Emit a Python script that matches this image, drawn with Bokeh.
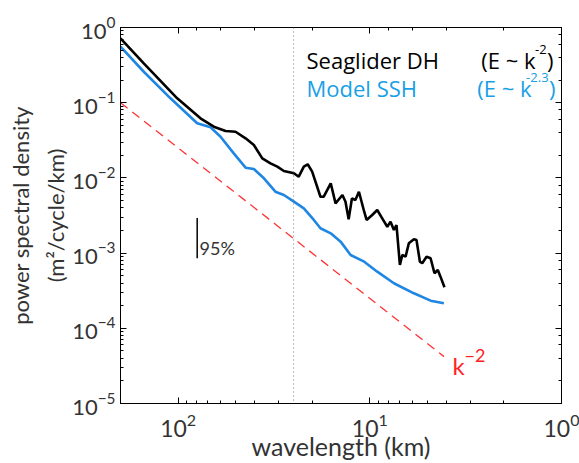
from bokeh.plotting import figure
from bokeh.models import Range1d, LogAxis, LogTicker, Span, Label, CustomJSTickFormatter
from bokeh.embed import file_html
from bokeh.resources import INLINE

# ---------------- data ----------------
glider_wavelength_km = [200, 151.2, 101.2, 76.5, 65.2, 56.6, 50.2, 44.5, 40.3, 36.4,
                        33.0, 30.4, 28.1, 24.9, 23.5, 22.1, 21.1, 20.0, 18.1, 17.4,
                        16.0, 15.1, 13.9, 13.4, 12.9, 12.4, 11.9, 11.4, 10.7, 10.4,
                        9.72, 9.15, 8.62, 8.11, 7.80, 7.49, 7.26, 6.97, 6.77, 6.51,
                        6.26, 5.89, 5.71, 5.48, 5.33, 5.06, 4.82, 4.60, 4.42, 4.28, 4.08]
glider_psd = [0.718, 0.334, 0.1144, 0.0620, 0.0480, 0.0420, 0.0411, 0.0336, 0.0274, 0.0182,
              0.0156, 0.0141, 0.01235, 0.01151, 0.01037, 0.0141, 0.01517, 0.01209, 0.00562, 0.00562,
              0.00848, 0.00459, 0.00592, 0.00483, 0.00282, 0.00535, 0.00508, 0.00655, 0.00355, 0.00276,
              0.00321, 0.00374, 0.00290, 0.00224, 0.00262, 0.00203, 0.00236, 0.000695, 0.000943, 0.000896,
              0.00135, 0.00153, 0.00149, 0.000769, 0.000732, 0.000896, 0.000853, 0.000539, 0.000596,
              0.000486, 0.000351]

model_wavelength_km = [200, 151.2, 109.7, 79.6, 67.8, 60.1, 51.3, 44.5, 40.3, 35.7,
                       31.1, 28.1, 24.9, 22.1, 19.6, 18.1, 16.0, 14.2, 12.6, 10.7,
                       9.15, 7.49, 5.89, 4.82, 4.11]
model_psd = [0.556, 0.258, 0.1144, 0.0532, 0.0471, 0.0353, 0.0212, 0.01367, 0.01313, 0.00988,
             0.00655, 0.00592, 0.00483, 0.00394, 0.00276, 0.00214, 0.00183, 0.00142, 0.000943, 0.000769,
             0.000566, 0.000397, 0.000292, 0.000233, 0.000215]

ref_wavelength_km = [200, 4.1]        # k^-2 reference slope
ref_psd = [0.1, 4.2e-5]

cutoff_wavelength_km = 25             # dotted vertical line
bar_wavelength_km = [79.6, 79.6]      # 95% confidence bar
bar_psd = [2.93e-3, 8.57e-4]

x_limits = (200, 1)
y_limits = (1e-5, 1)

TICK_FONT = "Lato"
LABEL_FONT = "Lato"
LEG_FONT = "Open Sans"
BLUE_LINE = "#1f86e3"
BLUE_TEXT = "#18a0e6"
TEXT_GRAY = "#333333"

p = figure(width=579, height=463, x_axis_type="log", y_axis_type="log",
           x_range=Range1d(*x_limits), y_range=Range1d(*y_limits),
           output_backend="svg", toolbar_location=None,
           min_border_left=120, min_border_right=18, min_border_top=27,
           min_border_bottom=60)
p.xgrid.visible = False
p.ygrid.visible = False
p.outline_line_color = "black"
p.background_fill_color = "white"
p.border_fill_color = "white"


def style_axis(ax, show_labels=True):
    ax.major_tick_in = 6
    ax.major_tick_out = 0
    ax.minor_tick_in = 3
    ax.minor_tick_out = 0
    ax.axis_line_color = "black"
    ax.major_tick_line_color = "black"
    ax.minor_tick_line_color = "black"
    ax.major_label_text_font = TICK_FONT
    ax.major_label_text_color = TEXT_GRAY
    ax.major_label_text_font_size = "22px"
    if not show_labels:
        ax.formatter = CustomJSTickFormatter(code="return '';")
        ax.major_label_standoff = 0


style_axis(p.xaxis[0])
style_axis(p.yaxis[0])
p.xaxis[0].major_label_text_font_size = "23px"
p.xaxis[0].major_label_standoff = 10
p.yaxis[0].major_label_standoff = 5

p.xaxis[0].axis_label = "wavelength (km)"
p.xaxis[0].axis_label_text_font = LABEL_FONT
p.xaxis[0].axis_label_text_font_size = "25px"
p.xaxis[0].axis_label_text_font_style = "normal"
p.xaxis[0].axis_label_text_color = TEXT_GRAY
p.xaxis[0].axis_label_standoff = -9

p.yaxis[0].axis_label = "power spectral density\n(m\u00b2/cycle/km)"
p.yaxis[0].axis_label_text_font = LABEL_FONT
p.yaxis[0].axis_label_text_font_size = "22px"
p.yaxis[0].axis_label_text_font_style = "normal"
p.yaxis[0].axis_label_text_color = TEXT_GRAY
p.yaxis[0].axis_label_text_line_height = 1.3
p.yaxis[0].axis_label_standoff = 0

top_axis = LogAxis(ticker=LogTicker())
style_axis(top_axis, show_labels=False)
p.add_layout(top_axis, "above")
right_axis = LogAxis(ticker=LogTicker())
style_axis(right_axis, show_labels=False)
p.add_layout(right_axis, "right")

# reference slope
p.line(ref_wavelength_km, ref_psd, line_color="#ff3333", line_width=1.3, line_dash="9 6")
# dotted cutoff
p.add_layout(Span(location=cutoff_wavelength_km, dimension="height",
                  line_color="#777777", line_width=1, line_dash="1 3"))
# curves
p.line(model_wavelength_km, model_psd, line_color=BLUE_LINE, line_width=2.6)
p.line(glider_wavelength_km, glider_psd, line_color="black", line_width=2.6)
# 95% bar
p.line(bar_wavelength_km, bar_psd, line_color="black", line_width=1.5)
p.add_layout(Label(x=77.4, y=1.17e-3, text="95%", text_font=TICK_FONT,
                   text_font_size="18px", text_color=TEXT_GRAY,
                   text_baseline="alphabetic", text_align="left"))

# legend-like texts
def leg(x, y, text, color, size="22px", align="left", xo=0, yo=0):
    p.add_layout(Label(x=x, y=y, text=text, text_font=LEG_FONT, text_font_size=size,
                       text_color=color, text_align=align, text_baseline="alphabetic",
                       x_offset=xo, y_offset=yo))

leg(21.4, 0.37, "Seaglider DH", "black")
leg(1.1, 0.37, ")", "black", align="right")
leg(1.1, 0.37, "-2", "black", size="13px", align="right", xo=-7, yo=10)
leg(1.1, 0.37, "(E ~ k", "black", align="right", xo=-18)

leg(21.4, 0.157, "Model SSH", BLUE_TEXT)
leg(1.1, 0.157, ")", BLUE_TEXT, align="right", xo=2)
leg(1.1, 0.157, "-2.3", BLUE_TEXT, size="13px", align="right", xo=-5, yo=10)
leg(1.1, 0.157, "(E ~ k", BLUE_TEXT, align="right", xo=-22)

# k^-2 label
p.add_layout(Label(x=3.70, y=3.25e-5, text="k", text_font=LABEL_FONT, text_font_size="24px",
                   text_color="#ff2222", text_baseline="alphabetic"))
p.add_layout(Label(x=3.70, y=3.25e-5, text="\u22122", text_font=LABEL_FONT, text_font_size="18px",
                   text_color="#ff2222", text_baseline="alphabetic", x_offset=12, y_offset=10))

open("out.html", "w").write(file_html(p, INLINE))
